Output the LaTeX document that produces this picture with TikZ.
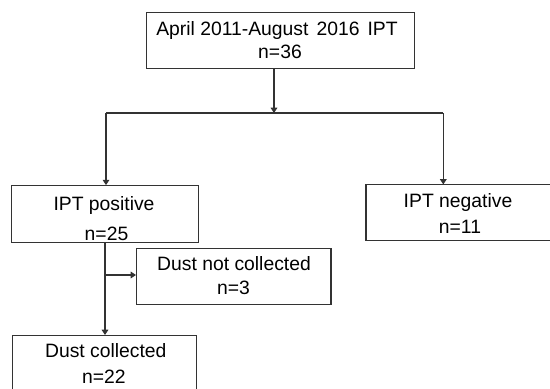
\documentclass[tikz,border=0pt]{standalone}
\usepackage{fontspec}
\setmainfont{Liberation Sans}
\usetikzlibrary{arrows.meta}
\begin{document}
\begin{tikzpicture}[x=0.75pt,y=-0.75pt,
  line width=0.8pt,
  box/.style={draw=black!80, line width=0.8pt, inner sep=0pt, outer sep=0pt},
  txt/.style={anchor=base, inner sep=0pt, text=black, font=\fontsize{14.5pt}{17pt}\selectfont},
  conn/.style={draw=black!80, line width=0.8pt},
  arr/.style={conn, -{Triangle[width=5pt,length=4pt]}}]
\useasboundingbox (0,0) rectangle (550,389);
\begin{scope}
\clip (0,0) rectangle (550,389);
% boxes
\node[box, minimum width=200.7pt, minimum height=42.2pt] (top) at (280.5,40.2) {};
\node[box, minimum width=140.2pt, minimum height=43.2pt] (pos) at (105.2,213.9) {};
\node[box, minimum width=138.8pt, minimum height=42.2pt] (neg) at (458.5,212.6) {};
\node[box, minimum width=146.2pt, minimum height=41.8pt] (dnc) at (233.5,276.2) {};
\node[box, minimum width=138.2pt, minimum height=43.3pt] (dc) at (104.8,363.9) {};
% texts
\node[txt] (topA) at (277,35.7) {April 2011-August\hspace{2pt} 2016\hspace{2pt} IPT};
\node[txt] (topB) at (280,58.3) {n=36};
\node[txt] (posA) at (104,210) {IPT positive};
\node[txt] (posB) at (106.5,240) {n=25};
\node[txt] (negA) at (458,207.3) {IPT negative};
\node[txt] (negB) at (460,233.3) {n=11};
\node[txt] (dncA) at (234,270.7) {Dust not collected};
\node[txt] (dncB) at (233.5,294) {n=3};
\node[txt] (dcA) at (105.8,357.3) {Dust collected};
\node[txt] (dcB) at (103.8,383.3) {n=22};
% connectors
\coordinate (split) at (274,113);
\coordinate (splitL) at (106,113);
\coordinate (splitR) at (443.3,113);
\coordinate (branch) at (105,275);
\draw[arr] (top.south -| split) -- (split);
\draw[conn] (splitL) -- (splitR);
\draw[arr] (splitL) -- (splitL |- pos.north);
\draw[arr] (splitR) -- (splitR |- neg.north);
\draw[arr] (pos.south -| branch) -- (branch |- dc.north);
\draw[arr] (branch) -- (dnc.west |- branch);
\end{scope}
\end{tikzpicture}
\end{document}
